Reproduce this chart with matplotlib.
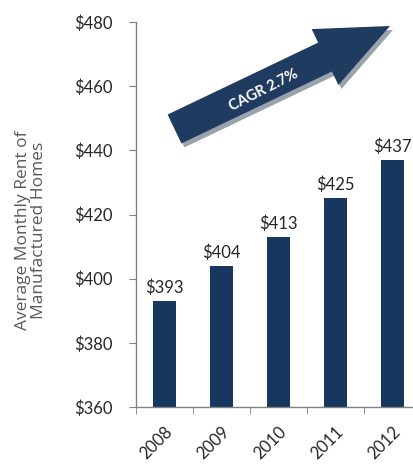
import matplotlib.pyplot as plt
import numpy as np
from matplotlib.patches import Polygon
from matplotlib.transforms import Affine2D, ScaledTranslation

years = ["2008", "2009", "2010", "2011", "2012"]
rent = [393, 404, 413, 425, 437]
y_ticks = [360, 380, 400, 420, 440, 460, 480]
cagr_text = "CAGR 2.7%"

W, H = 414, 467
fig = plt.figure(figsize=(W / 100, H / 100), dpi=100)
ax = fig.add_axes([136 / W, 1 - 407 / H, 285 / W, 385 / H])

bar_color = "#17375E"
x = np.arange(len(years))
ax.bar(x, rent, width=0.39, color=bar_color, zorder=2)
for xi, v in zip(x, rent):
    ax.text(xi, v + 1.6, f"${v}", ha="center", va="bottom",
            fontsize=12, color="#262626", family="Lato")

ax.set_xlim(-0.5, 4.5)
ax.set_ylim(360, 480)
ax.set_yticks(y_ticks)
ax.set_yticklabels([f"${t}" for t in y_ticks], fontsize=12, color="#262626", family="Lato")
ax.set_xticks(x)
ax.set_xticklabels(years, rotation=45, ha="right", rotation_mode="anchor",
                   fontsize=12, color="#262626", family="Lato")
shift = ScaledTranslation(4 / 100, 0, fig.dpi_scale_trans)
for lbl in ax.get_xticklabels():
    lbl.set_transform(lbl.get_transform() + shift)
ax.set_xticks(np.arange(-0.5, 5, 1), minor=True)
ax.tick_params(axis="x", which="major", length=0, pad=12)
ax.tick_params(axis="x", which="minor", length=5, color="#808080")
ax.tick_params(axis="y", length=5, color="#808080", pad=12)

for s in ["top", "right"]:
    ax.spines[s].set_visible(False)
for s in ["left", "bottom"]:
    ax.spines[s].set_color("#808080")
    ax.spines[s].set_linewidth(1.0)

fig.text(31 / W, 1 - 230 / H, "Average Monthly Rent of\nManufactured Homes",
         rotation=90, ha="center", va="center", fontsize=12.5, color="#595959",
         family="Open Sans", linespacing=1.0)

# growth arrow, laid out in pixel space (origin top-left)
px = Affine2D().scale(1 / W, -1 / H).translate(0, 1) + fig.transFigure
tail = np.array([174.5, 129.0])
tip = np.array([390.0, 26.0])
d = tip - tail
length = np.hypot(*d)
u = d / length
n = np.array([-u[1], u[0]])
shaft_hw, head_hw, head_len = 16, 31, 72
base = tail + u * (length - head_len)
pts = [tail + n * shaft_hw, base + n * shaft_hw, base + n * head_hw, tip,
       base - n * head_hw, base - n * shaft_hw, tail - n * shaft_hw]
shadow = [p + np.array([3, 4]) for p in pts]
fig.patches.append(Polygon(shadow, closed=True, facecolor="#9aa3ad",
                           edgecolor="none", transform=px, zorder=3))
fig.patches.append(Polygon(pts, closed=True, facecolor="#1F3B60",
                           edgecolor="none", transform=px, zorder=4))
fig.text(264 / W, 1 - 90 / H, cagr_text, rotation=np.degrees(np.arctan2(-d[1], d[0])) + 1.5,
         ha="center", va="center", fontsize=10.5, fontweight="bold",
         color="white", family="Lato", zorder=5)

fig.savefig("out.png", dpi=100)
